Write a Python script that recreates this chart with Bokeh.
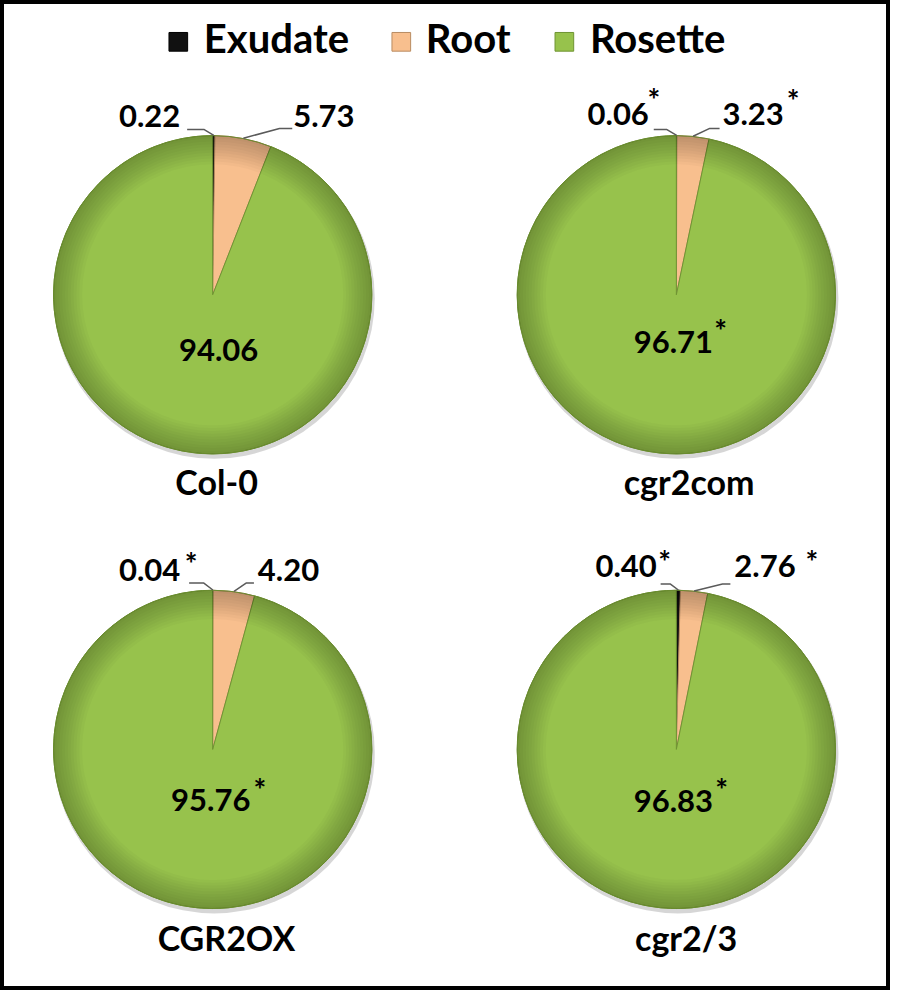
import numpy as np
from bokeh.plotting import figure
from bokeh.models import Range1d, ColumnDataSource
from bokeh.core.properties import value
from bokeh.embed import file_html
from bokeh.resources import INLINE

# ---------------- data ----------------
genotypes = ["Col-0", "cgr2com", "CGR2OX", "cgr2/3"]
exudate = [0.22, 0.06, 0.04, 0.40]
root = [5.73, 3.23, 4.20, 2.76]
rosette = [94.06, 96.71, 95.76, 96.83]
exudate_sig = [False, True, True, True]
root_sig = [False, True, False, True]
rosette_sig = [False, True, True, True]
series_names = ["Exudate", "Root", "Rosette"]

# ---------------- styles / layout ----------------
series_colors = ["#111111", "#F8BF8E", "#97C24C"]
series_edges = ["#000000", "#B98C62", "#6F9433"]
FONT = value("Lato")
FS_VAL, FS_NAME, FS_LEG, FS_AST = "31px", "34px", "40px", "30px"

W, H = 890, 990          # figure size in px; drawn in a 906 x 1006 layout space
SW, SH = 906, 1006
def Y(sy):
    return SH - sy       # layout y (downwards) -> data y

R = 162
centers = [(216, 299), (688, 299), (216, 761), (688, 761)]
layout = [
    dict(ex_lbl=(183, 117), rt_lbl=(298, 117), ro_lbl=(222, 355), nm=(220, 489),
         ex_elb=(207, 131), ex_end=(190, 131), rt_elb=(284, 130), rt_end=(297, 130),
         ex_ast=None, rt_ast=None, ro_ast=None),
    dict(ex_lbl=(660, 115), rt_lbl=(735, 115), ro_lbl=(685, 347), nm=(701, 489),
         ex_elb=(678, 131), ex_end=(665, 131), rt_elb=(722, 130), rt_end=(732, 130),
         ex_ast=(665, 96), rt_ast=(807, 97), ro_ast=(733, 331)),
    dict(ex_lbl=(183, 579), rt_lbl=(262, 579), ro_lbl=(214, 812), nm=(230, 952),
         ex_elb=(207, 592), ex_end=(192, 592), rt_elb=(250, 592), rt_end=(258, 592),
         ex_ast=(194, 568), rt_ast=None, ro_ast=(264, 797)),
    dict(ex_lbl=(668, 575), rt_lbl=(747, 575), ro_lbl=(685, 813), nm=(698, 952),
         ex_elb=(682, 593), ex_end=(672, 593), rt_elb=(735, 593), rt_end=(743, 593),
         ex_ast=(676, 566), rt_ast=(826, 566), ro_ast=(734, 797)),
]

p = figure(width=W, height=H, x_range=Range1d(0, SW), y_range=Range1d(0, SH),
           output_backend="svg", toolbar_location=None, min_border=0)
p.axis.visible = False
p.grid.visible = False
p.outline_line_color = "black"
p.outline_line_width = 7
p.background_fill_color = "white"
p.border_fill_color = "white"

for i, g in enumerate(genotypes):
    cx, cy = centers[i]
    L = layout[i]
    vals = np.array([exudate[i], root[i], rosette[i]], dtype=float)
    frac = vals / vals.sum()
    c1 = np.cumsum(frac)
    c0 = c1 - frac
    start = np.pi / 2 - 2 * np.pi * c0
    end = np.pi / 2 - 2 * np.pi * c1

    # soft shadow
    p.circle(x=[cx + 1.5], y=[Y(cy) - 3.5], radius=R + 1.5, fill_color="#000000",
             fill_alpha=0.16, line_color=None)
    src = ColumnDataSource(dict(x=[cx] * 3, y=[Y(cy)] * 3, start=start, end=end,
                                color=series_colors, edge=series_edges))
    p.wedge(x="x", y="y", radius=R, start_angle="start", end_angle="end",
            direction="clock", fill_color="color", line_color="edge",
            line_width=1, source=src)
    # bevel darkening towards rim
    for k in range(10):
        p.annulus(x=[cx], y=[Y(cy)], inner_radius=R * (0.82 + 0.018 * k),
                  outer_radius=R, fill_color="#000000", fill_alpha=0.022,
                  line_color=None)
    p.circle(x=[cx], y=[Y(cy)], radius=R, fill_color=None,
             line_color="#6A8C30", line_width=1)

    # leader lines
    for j, (elb, endp) in enumerate([(L["ex_elb"], L["ex_end"]), (L["rt_elb"], L["rt_end"])]):
        mid = (c0[j] + c1[j]) / 2
        th = np.pi / 2 - 2 * np.pi * mid
        sx = cx + R * np.cos(th)
        sy = Y(cy) + R * np.sin(th)
        p.line(x=[sx, elb[0], endp[0]], y=[sy, Y(elb[1]), Y(endp[1])],
               line_color="#5A5A5A", line_width=1.5)

    # value labels
    p.text(x=[L["ex_lbl"][0]], y=[Y(L["ex_lbl"][1])], text=[f"{exudate[i]:.2f}"],
           text_font=FONT, text_font_style="bold", text_font_size=FS_VAL,
           text_align="right", text_baseline="middle", text_color="black")
    p.text(x=[L["rt_lbl"][0]], y=[Y(L["rt_lbl"][1])], text=[f"{root[i]:.2f}"],
           text_font=FONT, text_font_style="bold", text_font_size=FS_VAL,
           text_align="left", text_baseline="middle", text_color="black")
    p.text(x=[L["ro_lbl"][0]], y=[Y(L["ro_lbl"][1])], text=[f"{rosette[i]:.2f}"],
           text_font=FONT, text_font_style="bold", text_font_size=FS_VAL,
           text_align="center", text_baseline="middle", text_color="black")
    # significance asterisks
    for flag, key in [(exudate_sig[i], "ex_ast"), (root_sig[i], "rt_ast"), (rosette_sig[i], "ro_ast")]:
        if flag and L[key] is not None:
            ax, ay = L[key]
            p.text(x=[ax], y=[Y(ay + 4)], text=["*"], text_font=FONT,
                   text_font_style="bold", text_font_size=FS_AST,
                   text_align="center", text_baseline="middle", text_color="black")
    # genotype name
    p.text(x=[L["nm"][0]], y=[Y(L["nm"][1])], text=[g], text_font=FONT,
           text_font_style="bold", text_font_size=FS_NAME, text_align="center",
           text_baseline="middle", text_color="black")

# legend
leg_sq_x = [181, 408, 574]
leg_tx_x = [207, 433, 600]
p.rect(x=leg_sq_x, y=[Y(42)] * 3, width=19, height=19, fill_color=series_colors,
       line_color=series_edges, line_width=1)
p.text(x=leg_tx_x, y=[Y(38)] * 3, text=series_names, text_font=FONT,
       text_font_style="bold", text_font_size=FS_LEG, text_align="left",
       text_baseline="middle", text_color="black")

open("out.html", "w").write(file_html(p, INLINE))
